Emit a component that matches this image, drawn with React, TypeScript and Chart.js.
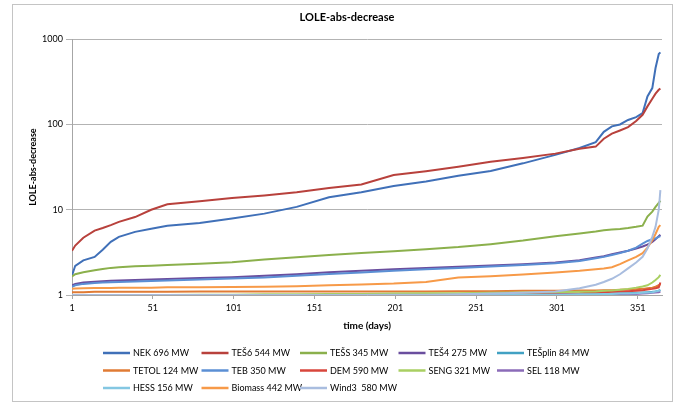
import React, { useEffect, useRef } from "react";
import { Chart, registerables } from "chart.js";

Chart.register(...registerables);

const chartTitle = "LOLE-abs-decrease";
const yTitle = "LOLE-abs-decrease";
const xTitle = "time (days)";
const xTicks = [1, 51, 101, 151, 201, 251, 301, 351];
const yTicks = [1, 10, 100, 1000];

const days = [1, 3, 8, 15, 20, 25, 30, 40, 50, 60, 80, 100, 120, 140, 160, 180, 200, 220, 240, 260, 280, 300, 315, 325, 330, 335, 340, 345, 350, 354, 357, 360, 362, 364, 365];

const nek = [1.7, 2.2, 2.55, 2.8, 3.4, 4.2, 4.8, 5.5, 6.0, 6.5, 7.0, 7.9, 9.0, 10.8, 14.0, 16.0, 19.0, 21.5, 25.0, 28.5, 35, 44, 53, 62, 82, 95, 100, 113, 122, 136, 213, 267, 459, 670, 700];
const tes6 = [3.3, 3.8, 4.7, 5.7, 6.1, 6.6, 7.2, 8.2, 10.0, 11.6, 12.6, 13.7, 14.7, 16.0, 18.0, 19.8, 25.5, 28.3, 32.0, 36.5, 40.5, 45.5, 52, 55, 68, 78, 85, 93, 110, 130, 163, 200, 230, 255, 265];
const tess = [1.65, 1.75, 1.85, 1.95, 2.02, 2.08, 2.12, 2.17, 2.21, 2.25, 2.32, 2.42, 2.6, 2.78, 2.95, 3.1, 3.25, 3.45, 3.65, 3.95, 4.35, 4.9, 5.25, 5.55, 5.75, 5.85, 5.95, 6.1, 6.3, 6.5, 8.3, 9.5, 10.8, 12.0, 12.8];
const tes4 = [1.3, 1.35, 1.4, 1.43, 1.45, 1.47, 1.48, 1.5, 1.52, 1.54, 1.58, 1.62, 1.68, 1.75, 1.85, 1.93, 2.0, 2.08, 2.15, 2.22, 2.3, 2.4, 2.55, 2.75, 2.85, 3.0, 3.15, 3.3, 3.5, 3.7, 3.9, 4.2, 4.5, 4.9, 5.1];
const tesplin = [1, 1, 1, 1, 1, 1, 1, 1, 1, 1, 1, 1, 1, 1, 1, 1, 1, 1.01, 1.01, 1.01, 1.02, 1.02, 1.03, 1.03, 1.04, 1.04, 1.05, 1.05, 1.06, 1.07, 1.08, 1.09, 1.1, 1.12, 1.15];
const tetol = [1.08, 1.08, 1.08, 1.09, 1.09, 1.09, 1.09, 1.09, 1.09, 1.09, 1.1, 1.1, 1.1, 1.1, 1.1, 1.1, 1.1, 1.1, 1.11, 1.11, 1.12, 1.12, 1.13, 1.13, 1.14, 1.14, 1.15, 1.16, 1.17, 1.18, 1.2, 1.22, 1.25, 1.3, 1.35];
const teb = [1.25, 1.3, 1.35, 1.38, 1.4, 1.41, 1.42, 1.44, 1.46, 1.48, 1.52, 1.56, 1.6, 1.68, 1.76, 1.84, 1.92, 2.0, 2.08, 2.16, 2.25, 2.35, 2.5, 2.7, 2.8, 2.95, 3.1, 3.3, 3.6, 4.0, 4.3, 4.5, 4.6, 4.8, 4.9];
const dem = [1, 1, 1, 1, 1, 1, 1, 1, 1, 1, 1, 1, 1, 1, 1, 1, 1, 1, 1.01, 1.01, 1.02, 1.04, 1.05, 1.07, 1.08, 1.09, 1.1, 1.11, 1.12, 1.14, 1.16, 1.18, 1.2, 1.23, 1.4];
const seng = [1, 1, 1, 1, 1, 1, 1, 1, 1, 1, 1.01, 1.01, 1.02, 1.02, 1.03, 1.03, 1.04, 1.05, 1.05, 1.06, 1.07, 1.08, 1.09, 1.1, 1.12, 1.13, 1.15, 1.18, 1.22, 1.26, 1.3, 1.4, 1.5, 1.62, 1.72];
const sel = [1, 1, 1, 1, 1, 1, 1, 1, 1, 1, 1, 1, 1, 1, 1, 1, 1, 1, 1, 1, 1, 1.01, 1.01, 1.01, 1.02, 1.02, 1.02, 1.03, 1.03, 1.04, 1.05, 1.06, 1.07, 1.08, 1.1];
const hess = [1, 1, 1, 1, 1, 1, 1, 1, 1, 1, 1, 1, 1, 1, 1, 1, 1, 1, 1, 1, 1.01, 1.01, 1.02, 1.02, 1.03, 1.03, 1.04, 1.04, 1.05, 1.06, 1.07, 1.08, 1.1, 1.12, 1.14];
const biomass = [1.18, 1.19, 1.2, 1.21, 1.21, 1.21, 1.22, 1.22, 1.22, 1.23, 1.23, 1.24, 1.25, 1.27, 1.3, 1.33, 1.36, 1.42, 1.6, 1.66, 1.74, 1.84, 1.92, 2.0, 2.05, 2.12, 2.3, 2.55, 2.8, 3.1, 3.6, 4.4, 5.2, 6.3, 6.6];
const wind3 = [1, 1, 1, 1, 1, 1, 1, 1, 1, 1, 1, 1, 1, 1, 1, 1, 1.01, 1.01, 1.02, 1.04, 1.06, 1.1, 1.2, 1.32, 1.42, 1.55, 1.75, 2.05, 2.4, 2.8, 3.5, 4.8, 6.3, 10, 17];

const seriesLabels = [
  "NEK 696 MW", "TEŠ6 544 MW", "TEŠS 345 MW", "TEŠ4 275 MW", "TEŠplin 84 MW",
  "TETOL 124 MW", "TEB 350 MW", "DEM 590 MW", "SENG 321 MW", "SEL 118 MW",
  "HESS 156 MW", "Biomass 442 MW", "Wind3  580 MW",
];
const seriesValues = [nek, tes6, tess, tes4, tesplin, tetol, teb, dem, seng, sel, hess, biomass, wind3];
const seriesColors = [
  "#4070b8", "#b8413c", "#8bb04c", "#6a4e9e", "#41a1c3",
  "#e07b35", "#5b8fd4", "#d8463c", "#a9cf62", "#8b6bb8",
  "#84c7e2", "#f79a48", "#a9bddf",
];

const FONT = "Lato";

const framePlugin = {
  id: "frame",
  beforeDraw(chart: any) {
    const ctx = chart.ctx;
    ctx.save();
    ctx.fillStyle = "#ffffff";
    ctx.fillRect(0, 0, chart.width, chart.height);
    ctx.strokeStyle = "#c4c4c4";
    ctx.lineWidth = 1;
    ctx.strokeRect(12.5, 4.5, 660, 397);
    ctx.restore();
  },
};

const gridLegendPlugin = {
  id: "gridLegend",
  afterDraw(chart: any) {
    const ctx = chart.ctx;
    ctx.save();
    ctx.font = `9px ${FONT}`;
    ctx.textBaseline = "middle";
    ctx.textAlign = "left";
    chart.data.datasets.forEach((ds: any, i: number) => {
      const col = i % 5;
      const row = Math.floor(i / 5);
      const x = 103 + col * 98.5;
      const y = 353 + row * 17.5;
      ctx.strokeStyle = ds.borderColor;
      ctx.lineWidth = 2.5;
      ctx.beginPath();
      ctx.moveTo(x, y);
      ctx.lineTo(x + 27, y);
      ctx.stroke();
      ctx.fillStyle = "#000000";
      ctx.fillText(ds.label, x + 30, y + 0.5);
    });
    ctx.restore();
  },
};

export default function App() {
  const canvasRef = useRef<HTMLCanvasElement | null>(null);

  useEffect(() => {
    if (!canvasRef.current) return;
    Chart.defaults.font.family = FONT;
    const datasets = seriesLabels.map((label, i) => ({
      label,
      data: days.map((d, k) => ({ x: d, y: seriesValues[i][k] })),
      borderColor: seriesColors[i],
      backgroundColor: seriesColors[i],
      borderWidth: 2,
      pointRadius: 0,
      tension: 0,
      fill: false,
      order: seriesLabels.length - i,
    }));
    const chart = new Chart(canvasRef.current, {
      type: "line",
      data: { datasets },
      options: {
        responsive: false,
        animation: false,
        layout: { padding: { left: 32, right: 23, top: 0, bottom: 72 } },
        plugins: {
          legend: { display: false },
          tooltip: { enabled: false },
          title: {
            display: true,
            text: chartTitle,
            color: "#000000",
            font: { family: FONT, size: 11, weight: "bold" },
            padding: { top: 11, bottom: 15 },
          },
        },
        scales: {
          x: {
            type: "linear",
            min: 1,
            max: 366,
            afterBuildTicks: (s: any) => {
              s.ticks = xTicks.map((v) => ({ value: v }));
            },
            afterFit: (s: any) => {
              s.height = 40;
            },
            ticks: {
              autoSkip: false,
              maxRotation: 0,
              padding: 4,
              color: "#000000",
              font: { family: FONT, size: 9 },
              callback: (v: any) => String(v),
            },
            grid: {
              drawOnChartArea: false,
              drawTicks: true,
              tickLength: 4,
              color: "#a6a6a6",
            },
            border: { color: "#a6a6a6" },
            title: {
              display: true,
              text: xTitle,
              color: "#000000",
              font: { family: FONT, size: 10, weight: "bold" },
              padding: { top: 0, bottom: 3 },
            },
          },
          y: {
            type: "logarithmic",
            min: 1,
            max: 1000,
            afterBuildTicks: (s: any) => {
              s.ticks = yTicks.map((v) => ({ value: v }));
            },
            afterFit: (s: any) => {
              s.width = 40;
            },
            ticks: {
              padding: 3,
              color: "#000000",
              font: { family: FONT, size: 9 },
              callback: (v: any) => String(v),
            },
            grid: {
              drawTicks: true,
              tickLength: 6,
              color: "#b3b3b3",
            },
            border: { color: "#a6a6a6" },
            title: {
              display: true,
              text: yTitle,
              color: "#000000",
              font: { family: FONT, size: 9, weight: "bold" },
              padding: { top: -4.4, bottom: 0 },
            },
          },
        },
      },
      plugins: [framePlugin, gridLegendPlugin],
    } as any);
    return () => chart.destroy();
  }, []);

  return (
    <div style={{ position: "fixed", left: 0, top: 0, width: 685, height: 407, background: "#fff" }}>
      <canvas ref={canvasRef} width={685} height={407} style={{ display: "block" }} />
    </div>
  );
}
